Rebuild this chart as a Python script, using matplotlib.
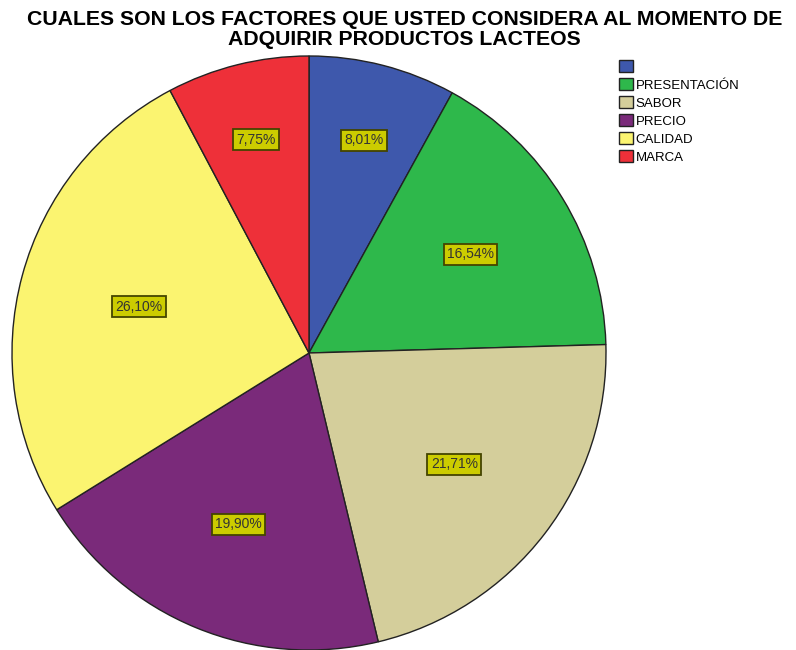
import numpy as np
import matplotlib.pyplot as plt

categorias = ['', 'PRESENTACIÓN', 'SABOR', 'PRECIO', 'CALIDAD', 'MARCA']
porcentajes = [8.01, 16.54, 21.71, 19.90, 26.10, 7.75]
colores = ['#3e58ac', '#2eb84b', '#d4ce9b', '#7a2a7a', '#fbf470', '#ee3039']

titulo = 'CUALES SON LOS FACTORES QUE USTED CONSIDERA AL MOMENTO DE\nADQUIRIR PRODUCTOS LACTEOS'

plt.rcParams['font.family'] = ['Liberation Sans', 'DejaVu Sans']

fig = plt.figure(figsize=(7.96, 6.5), dpi=100)
ax = fig.add_axes([12 / 796, 0, 594 / 796, 594 / 650])

wedges, _ = ax.pie(porcentajes, colors=colores, startangle=90, counterclock=False,
                   radius=1.0, wedgeprops=dict(edgecolor='#222222', linewidth=1.0))
ax.set_xlim(-1, 1)
ax.set_ylim(-1, 1)
ax.set_aspect('equal')
ax.axis('off')

# etiquetas de porcentaje en el centroide de cada sector
for w, p in zip(wedges, porcentajes):
    medio = np.deg2rad((w.theta1 + w.theta2) / 2)
    alfa = np.deg2rad(abs(w.theta2 - w.theta1)) / 2
    d = 2 * np.sin(alfa) / (3 * alfa)
    if p < 10:
        d = 0.74
    ax.text(d * np.cos(medio), d * np.sin(medio), f'{p:.2f}%'.replace('.', ','),
            ha='center', va='center', fontsize=10, color='#333333',
            bbox=dict(boxstyle='square,pad=0.25', facecolor='#cccc00',
                      edgecolor='#444400', linewidth=1.3))

fig.text(0.508, 0.985, titulo, ha='center', va='top', fontsize=15.3,
         fontweight='bold', linespacing=1.07)

leg = fig.legend(wedges, categorias, loc='upper left', bbox_to_anchor=(619 / 796, 1 - 60 / 650),
                 frameon=False, fontsize=9.5, handlelength=1.05, handleheight=1.05,
                 handletextpad=0.2, labelspacing=0.33, borderpad=0, borderaxespad=0)

fig.savefig('out.png', dpi=100)
